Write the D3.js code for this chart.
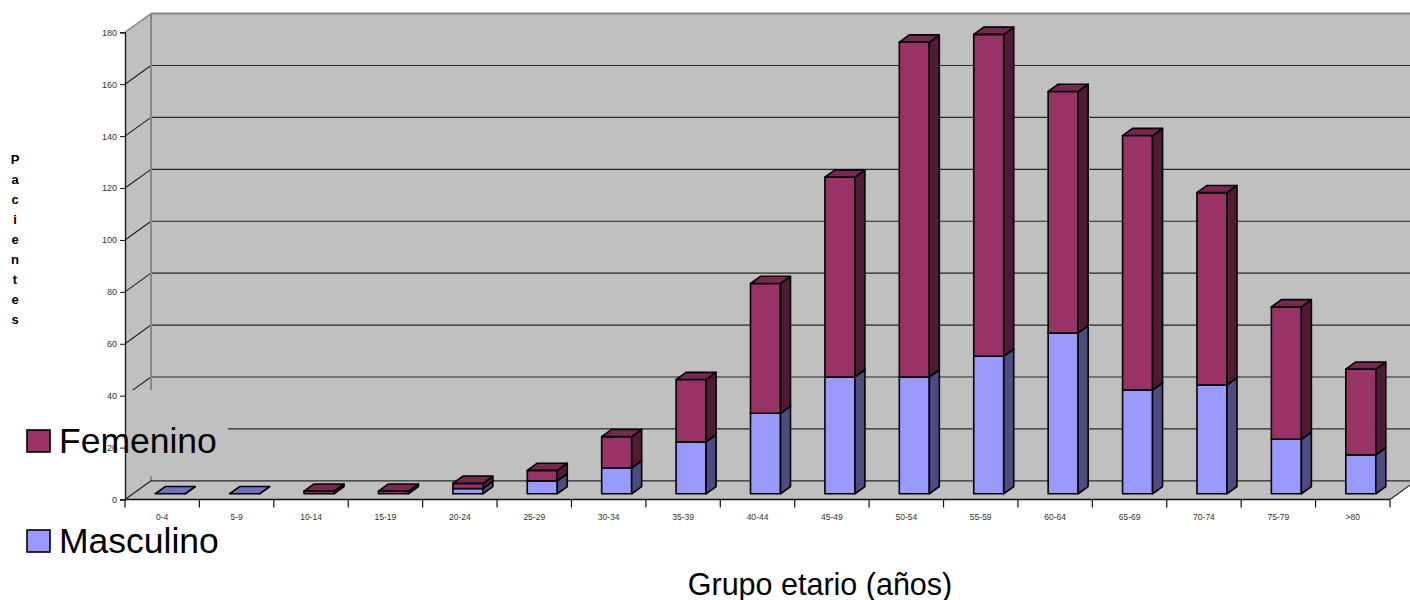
<!DOCTYPE html>
<html>
<head>
<meta charset="utf-8">
<script src="https://cdn.jsdelivr.net/npm/d3@7"></script>
<style>
  html, body { margin: 0; padding: 0; background: #ffffff; }
  svg { display: block; font-family: "Liberation Sans", Arial, sans-serif; }
</style>
</head>
<body>
<svg id="chart" width="1410" height="600"></svg>
<script>
// Age groups and patient counts by sex
const categories = ["0-4","5-9","10-14","15-19","20-24","25-29","30-34","35-39","40-44","45-49","50-54","55-59","60-64","65-69","70-74","75-79",">80"];
const masculino = [0, 0, 0, 0, 2, 5, 10, 20, 31, 45, 45, 53, 62, 40, 42, 21, 15];
const femenino  = [0, 0, 1, 1, 2, 4, 12, 24, 50, 77, 129, 124, 93, 98, 74, 51, 33];
const yTicks = [0, 20, 40, 60, 80, 100, 120, 140, 160, 180];
const seriesNames = ["Masculino", "Femenino"];

const svg = d3.select("#chart");

// Wall depth (oblique projection) and bar geometry
const DX = 26, DY = -18.7;
const barW = 30, barDX = 10, barDY = -7.2;
const frontShiftX = 8, frontShiftY = -5.75;

const x = d3.scaleBand().domain(categories).range([125, 1390]);
const y = d3.scaleLinear().domain([0, 180]).range([499.5, 32.3]);

const x0 = x.range()[0], x1 = x.range()[1];
const yBottom = y(0), yTop = y(180);

const colors = {
  Masculino: { front: "#9999ff", top: "#6f6fc4", side: "#4c4c80" },
  Femenino:  { front: "#993366", top: "#78284f", side: "#4f1a34" }
};

// Back wall
svg.append("rect")
  .attr("x", x0 + DX).attr("y", yTop + DY)
  .attr("width", 1410 - (x0 + DX) + 10).attr("height", yBottom - yTop)
  .attr("fill", "#c0c0c0");
// Side wall
svg.append("polygon")
  .attr("points", [[x0, yBottom], [x0, yTop], [x0 + DX, yTop + DY], [x0 + DX, yBottom + DY]].join(" "))
  .attr("fill", "#c0c0c0");
// Floor
svg.append("polygon")
  .attr("points", [[x0, yBottom], [x1, yBottom], [x1 + DX, yBottom + DY], [x0 + DX, yBottom + DY]].join(" "))
  .attr("fill", "#c0c0c0");

// Gridlines on back wall plus depth connectors on side wall
const grid = svg.append("g");
yTicks.filter(v => v > 0).forEach(v => {
  const top = v === 180;
  grid.append("line")
    .attr("x1", x0 + DX).attr("x2", 1410)
    .attr("y1", y(v) + DY).attr("y2", y(v) + DY)
    .attr("stroke", top ? "#888888" : "#262626")
    .attr("stroke-width", top ? 2 : 1.2);
  grid.append("line")
    .attr("x1", x0).attr("y1", y(v))
    .attr("x2", x0 + DX).attr("y2", y(v) + DY)
    .attr("stroke", top ? "#888888" : "#1e1e1e")
    .attr("stroke-width", top ? 1.5 : 1.1);
});
// Back wall left edge
grid.append("line")
  .attr("x1", x0 + DX).attr("x2", x0 + DX)
  .attr("y1", yTop + DY).attr("y2", yBottom + DY)
  .attr("stroke", "#888888").attr("stroke-width", 2);

// Legend backdrop hides part of the wall lines
svg.append("rect")
  .attr("x", x0 + 1).attr("y", 390).attr("width", 228 - x0 - 1).attr("height", 86)
  .attr("fill", "#c0c0c0");

// Floor back edge and right edge
svg.append("line")
  .attr("x1", x0 + DX).attr("x2", 1410)
  .attr("y1", yBottom + DY).attr("y2", yBottom + DY)
  .attr("stroke", "#262626").attr("stroke-width", 1.2);
svg.append("line")
  .attr("x1", x0).attr("y1", yBottom).attr("x2", x0 + DX).attr("y2", yBottom + DY)
  .attr("stroke", "#1e1e1e").attr("stroke-width", 1.1);
svg.append("line")
  .attr("x1", x1).attr("y1", yBottom).attr("x2", x1 + DX).attr("y2", yBottom + DY)
  .attr("stroke", "#1e1e1e").attr("stroke-width", 1.2);

// Stacked 3D bars
const stackData = categories.map((c, i) => ({ cat: c, Masculino: masculino[i], Femenino: femenino[i] }));
const stacked = d3.stack().keys(seriesNames)(stackData);

const barsG = svg.append("g");
categories.forEach((c, i) => {
  const fx = x(c) + x.bandwidth() / 2 + frontShiftX - barW / 2;
  const total = masculino[i] + femenino[i];
  stacked.forEach((layer, si) => {
    const [v0, v1] = layer[i];
    if (v1 - v0 <= 0 && !(si === 0 && total === 0)) return;
    const col = colors[layer.key];
    const yb = y(v0) + frontShiftY, yt = y(v1) + frontShiftY;
    const g = barsG.append("g").attr("stroke", "#000").attr("stroke-width", 1.6).attr("stroke-linejoin", "round");
    // front face
    g.append("rect").attr("x", fx).attr("y", yt).attr("width", barW).attr("height", Math.max(0, yb - yt))
      .attr("fill", col.front);
    // side face
    g.append("polygon")
      .attr("points", [[fx + barW, yb], [fx + barW, yt], [fx + barW + barDX, yt + barDY], [fx + barW + barDX, yb + barDY]].join(" "))
      .attr("fill", col.side);
    // top face
    g.append("polygon")
      .attr("points", [[fx, yt], [fx + barW, yt], [fx + barW + barDX, yt + barDY], [fx + barDX, yt + barDY]].join(" "))
      .attr("fill", col.top);
  });
});

// Y axis
const yAxis = d3.axisLeft(y).tickValues(yTicks).tickSize(5).tickPadding(3);
const yg = svg.append("g").attr("transform", `translate(${x0},0)`).call(yAxis);
yg.select(".domain").attr("stroke", "#111").attr("stroke-width", 1.3);
yg.selectAll(".tick line").attr("stroke", "#111");
yg.selectAll(".tick text").attr("font-size", 9).attr("fill", "#333")
  .attr("font-family", "'Liberation Sans', Arial, sans-serif");

// X axis: ticks on band boundaries
const xg = svg.append("g").attr("transform", `translate(0,${yBottom})`);
xg.append("line").attr("x1", x0).attr("x2", x1).attr("stroke", "#111").attr("stroke-width", 1.3);
categories.concat([null]).forEach((c, i) => {
  const bx = c ? x(c) : x1;
  xg.append("line").attr("x1", bx).attr("x2", bx).attr("y1", 0).attr("y2", 8)
    .attr("stroke", "#111").attr("stroke-width", 1.2);
});
const xAxis = d3.axisBottom(x).tickSize(0).tickPadding(14);
const xl = svg.append("g").attr("transform", `translate(0,${yBottom})`).call(xAxis);
xl.select(".domain").remove();
xl.selectAll(".tick text").attr("font-size", 8.5).attr("fill", "#333")
  .attr("font-family", "'Liberation Sans', Arial, sans-serif");

// Y axis title, letters stacked vertically
const yTitle = "Pacientes".split("");
svg.append("g").selectAll("text").data(yTitle).join("text")
  .attr("x", 15).attr("y", (d, i) => 164 + i * 20)
  .attr("text-anchor", "middle")
  .attr("font-size", 13).attr("font-weight", "bold").attr("fill", "#000")
  .text(d => d);

// X axis title
svg.append("text")
  .attr("x", 820).attr("y", 595)
  .attr("text-anchor", "middle")
  .attr("font-size", 30.5).attr("fill", "#000")
  .text("Grupo etario (años)");

// Legend
const legend = [
  { name: "Femenino", y: 430 },
  { name: "Masculino", y: 530 }
];
const lg = svg.append("g");
legend.forEach(d => {
  lg.append("rect").attr("x", 27).attr("y", d.y).attr("width", 23).attr("height", 22)
    .attr("fill", colors[d.name].front).attr("stroke", "#000").attr("stroke-width", 1.6);
  lg.append("text").attr("x", 59).attr("y", d.y + 23)
    .attr("font-size", 35.5).attr("fill", "#000").text(d.name);
});
</script>
</body>
</html>
